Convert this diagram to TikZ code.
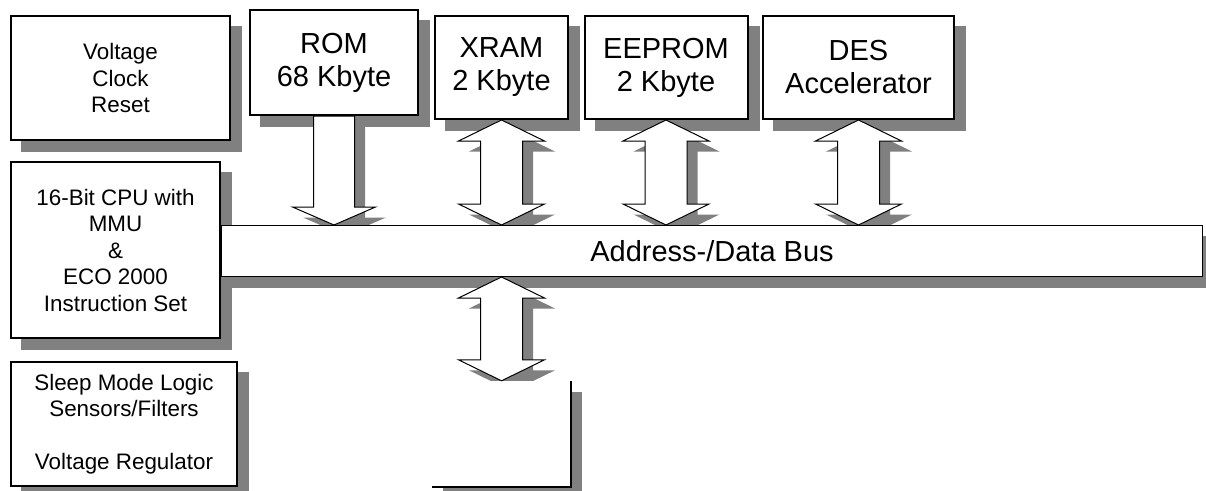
\documentclass[tikz,border=0pt]{standalone}
\usepackage{fontspec}
\setmainfont{Liberation Sans}
\usetikzlibrary{calc}
\pgfdeclarelayer{bg}
\pgfsetlayers{bg,main}
\definecolor{shadowc}{RGB}{128,128,128}
\tikzset{
  blk/.style={draw, line width=2pt, fill=white, inner sep=0pt, align=center},
  bigtxt/.style={font=\fontsize{29}{33}\selectfont},
  smalltxt/.style={font=\fontsize{22.4}{26.5}\selectfont},
  arrowst/.style={draw=black, line width=1pt, fill=white, line join=miter},
  shadowst/.style={fill=shadowc},
}
% double block arrow between #1 (top tip) and #2 (bottom tip), shifted by #3
\newcommand\dblshape[3]{($(#1)+(#3,#3)$) -- ($(#1)+(43+#3,21+#3)$) -- ($(#1)+(21+#3,21+#3)$) -- ($(#2)+(21+#3,-21+#3)$) -- ($(#2)+(43+#3,-21+#3)$) -- ($(#2)+(#3,#3)$) -- ($(#2)+(-43+#3,-21+#3)$) -- ($(#2)+(-21+#3,-21+#3)$) -- ($(#1)+(-21+#3,21+#3)$) -- ($(#1)+(-43+#3,21+#3)$) -- cycle}
% single block arrow from #1 (shaft start) to #2 (tip), shifted by #3
\newcommand\sglshape[3]{($(#1)+(-20.5+#3,#3)$) -- ($(#1)+(20.5+#3,#3)$) -- ($(#2)+(20.5+#3,-18+#3)$) -- ($(#2)+(41.5+#3,-18+#3)$) -- ($(#2)+(#3,#3)$) -- ($(#2)+(-41.5+#3,-18+#3)$) -- ($(#2)+(-20.5+#3,-18+#3)$) -- cycle}
\begin{document}
\begin{tikzpicture}[x=1pt,y=-1pt]
\useasboundingbox (0,0) rectangle (1206,490);
% blocks
\node[blk,smalltxt,minimum width=219pt,minimum height=124pt] (vcr) at (120.5,78) {Voltage\\Clock\\Reset};
\node[blk,bigtxt,minimum width=168pt,minimum height=105pt] (rom) at (334,62.5) {ROM\\68 Kbyte};
\node[blk,bigtxt,minimum width=133pt,minimum height=103pt] (xram) at (501.5,67.5) {XRAM\\2 Kbyte};
\node[blk,bigtxt,minimum width=163pt,minimum height=103pt] (eeprom) at (666,67.5) {EEPROM\\2 Kbyte};
\node[blk,bigtxt,minimum width=191pt,minimum height=103pt] (des) at (858.5,67.5) {DES\\Accelerator};
\node[blk,smalltxt,minimum width=209pt,minimum height=176pt] (cpu) at (115.5,250) {16-Bit CPU with\\MMU\\\&\\ECO 2000\\Instruction Set};
\node[blk,smalltxt,minimum width=226pt,minimum height=124pt] (sleep) at (124,424) {Sleep Mode Logic\\Sensors/Filters\\[26.5pt]Voltage Regulator};
\node[draw, line width=1pt, fill=white, inner sep=0pt, bigtxt, minimum width=981pt, minimum height=51pt] (bus) at (712,251) {Address-/Data Bus};
\node[fill=white, inner sep=0pt, minimum width=139pt, minimum height=106pt] (io) at (501.5,434) {};
\draw[line width=2pt] (io.south west) -- (io.south east) -- (io.north east);
% connector end points
\coordinate (rb) at (rom.south |- bus.north);
\coordinate (xb) at (xram.south |- bus.north);
\coordinate (eb) at (eeprom.south |- bus.north);
\coordinate (db) at (des.south |- bus.north);
\coordinate (it) at (io.north |- bus.south);
% shadows
\begin{pgfonlayer}{bg}
\foreach \n in {vcr,rom,xram,eeprom,des,cpu,sleep,bus,io}
  \fill[shadowst] ($(\n.south west)+(11,11)$) rectangle ($(\n.north east)+(11,11)$);
\fill[shadowst] \sglshape{rom.south}{rb}{10.5};
\fill[shadowst] \dblshape{xram.south}{xb}{10.5};
\fill[shadowst] \dblshape{eeprom.south}{eb}{10.5};
\fill[shadowst] \dblshape{des.south}{db}{10.5};
\fill[shadowst] \dblshape{it}{io.north}{10.5};
\end{pgfonlayer}
% arrows
\draw[arrowst] \sglshape{rom.south}{rb}{0};
\draw[arrowst] \dblshape{xram.south}{xb}{0};
\draw[arrowst] \dblshape{eeprom.south}{eb}{0};
\draw[arrowst] \dblshape{des.south}{db}{0};
\draw[arrowst] \dblshape{it}{io.north}{0};
\end{tikzpicture}
\end{document}
